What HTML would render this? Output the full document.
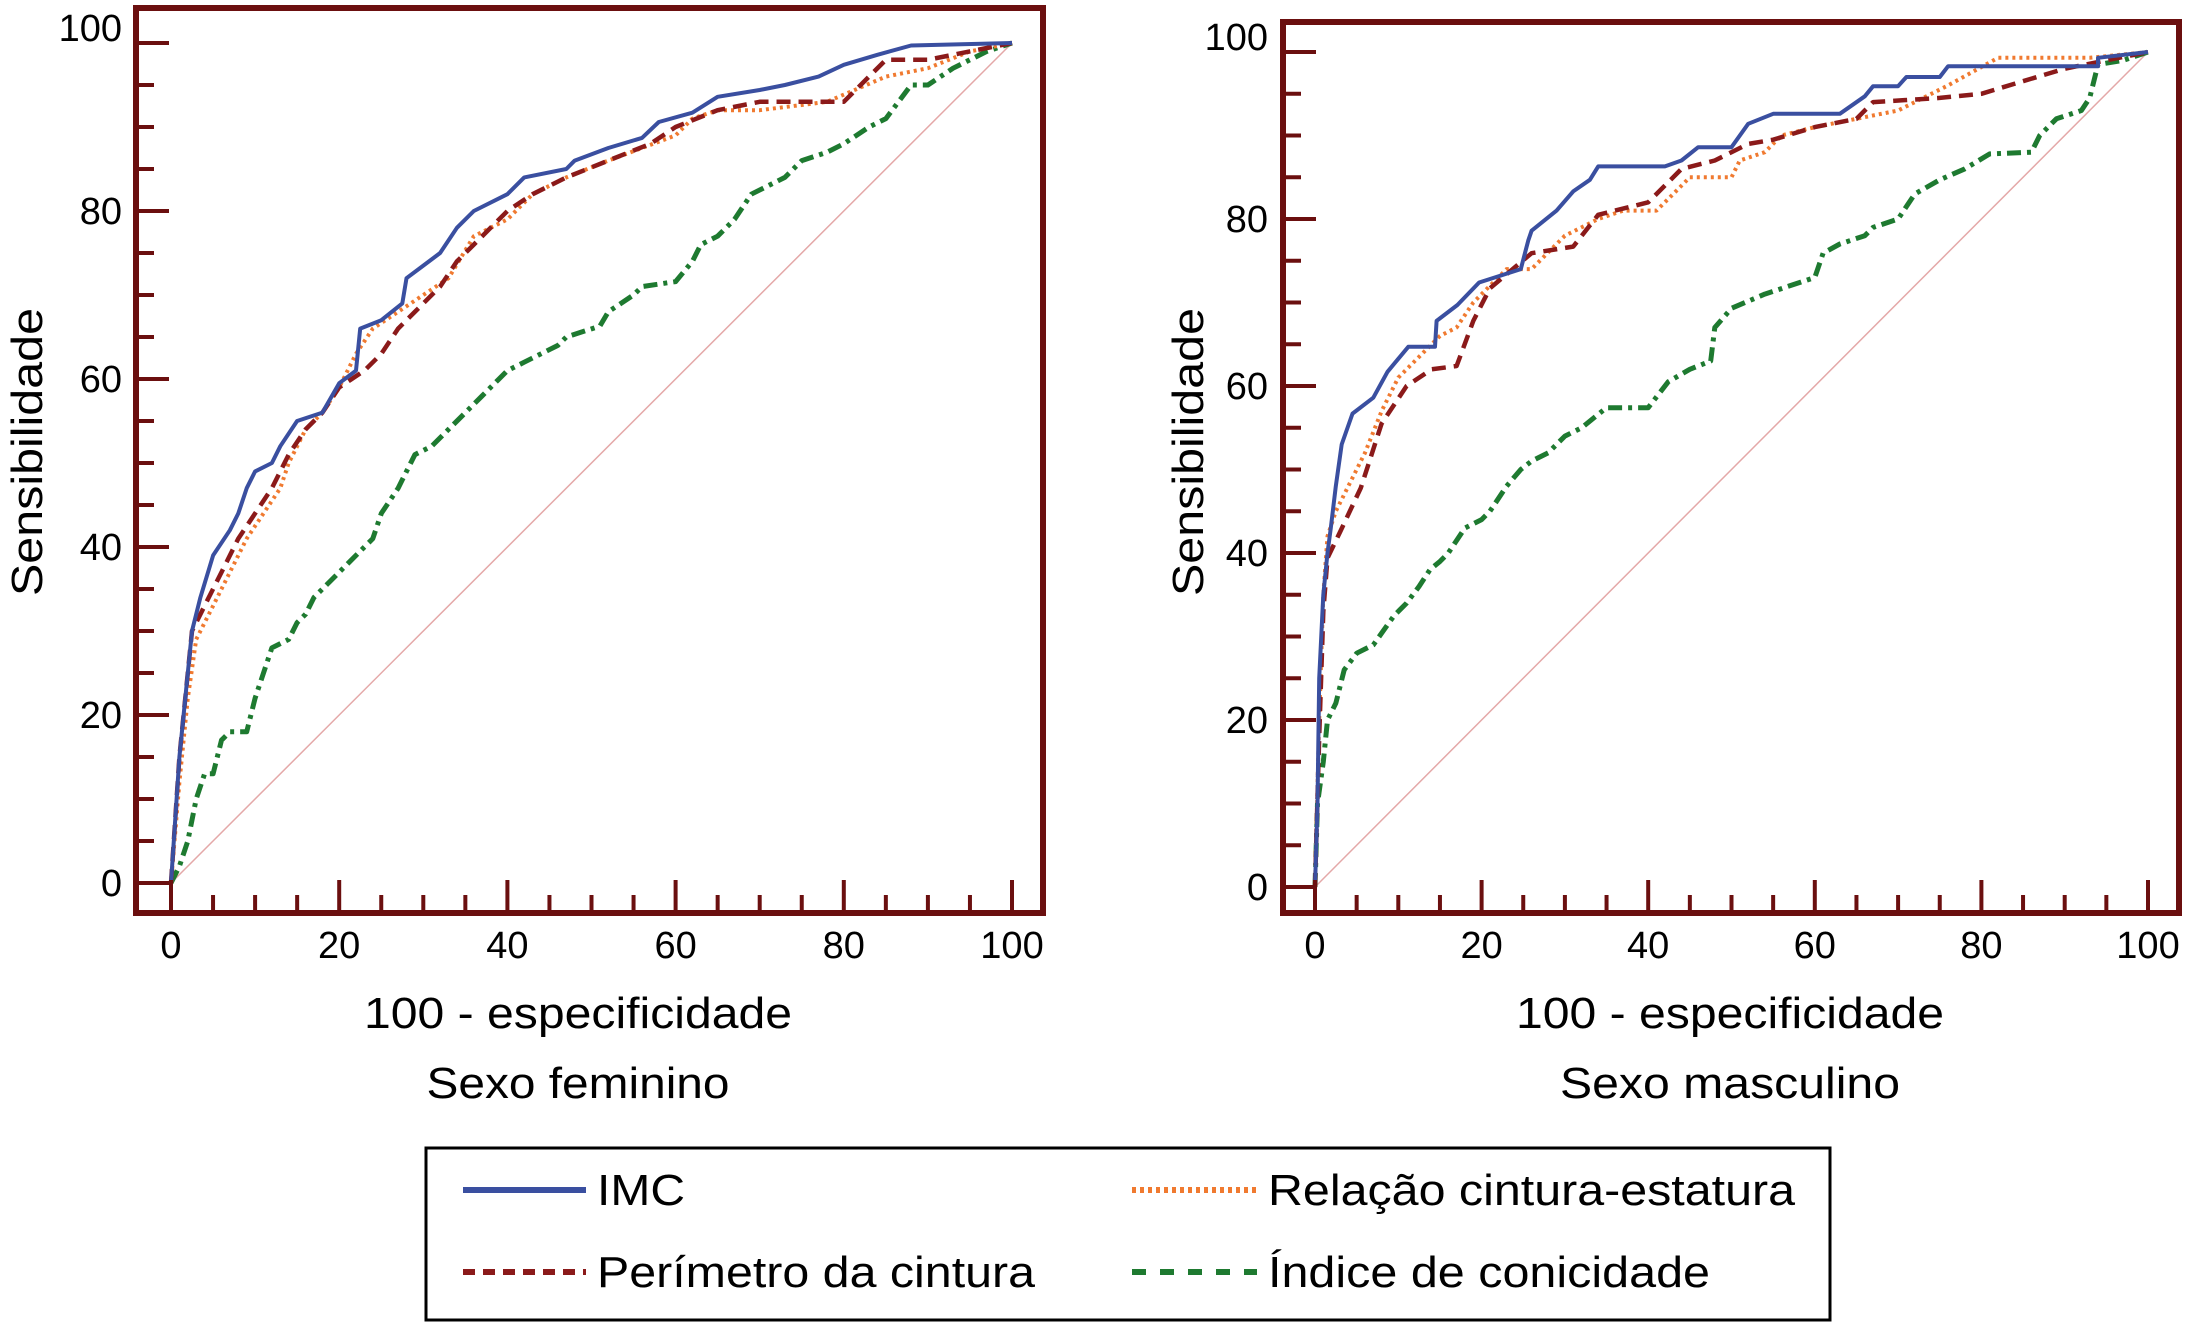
<!DOCTYPE html>
<html><head><meta charset="utf-8">
<style>
html,body{margin:0;padding:0;background:#fff;}
svg{display:block;font-family:"Liberation Sans",Arial,sans-serif;}
</style></head>
<body>
<svg id="chart" width="2202" height="1323" viewBox="0 0 2202 1323" xmlns="http://www.w3.org/2000/svg">
<rect x="0" y="0" width="2202" height="1323" fill="#fff"/>
<g id="panels"></g>
<g>
  <rect x="426" y="1148" width="1404" height="172" fill="none" stroke="#000" stroke-width="3"/>
  <line x1="463" y1="1190" x2="586" y2="1190" stroke="#3a4fa0" stroke-width="6"/>
  <text x="597" y="1205" font-size="44" textLength="88" lengthAdjust="spacingAndGlyphs">IMC</text>
  <line x1="1132" y1="1190" x2="1257" y2="1190" stroke="#f07a30" stroke-width="6" stroke-dasharray="4 4"/>
  <text x="1268" y="1205" font-size="44" textLength="527" lengthAdjust="spacingAndGlyphs">Relação cintura-estatura</text>
  <line x1="463" y1="1272" x2="586" y2="1272" stroke="#8b1a1a" stroke-width="6" stroke-dasharray="12 8"/>
  <text x="597" y="1287" font-size="44" textLength="438" lengthAdjust="spacingAndGlyphs">Perímetro da cintura</text>
  <line x1="1132" y1="1272" x2="1257" y2="1272" stroke="#1e7a30" stroke-width="6" stroke-dasharray="14 14"/>
  <text x="1268" y="1287" font-size="44" textLength="442" lengthAdjust="spacingAndGlyphs">Índice de conicidade</text>
</g>
</svg>
<script>
const xTicks = [0,20,40,60,80,100];
const yTicks = [0,20,40,60,80,100];
// Sexo feminino
const femIMC = [[0,0],[1,15],[2.5,30],[3.5,34],[5,39],[7,42],[8,44],[9,47],[10,49],[12,50],[13,52],[15,55],[18,56],[20,59.5],[22,61],[22.5,66],[25,67],[27.5,69],[28,72],[30,73.5],[32,75],[34,78],[36,80],[40,82],[42,84],[47,85],[48,86],[52,87.5],[56,88.7],[58,90.6],[62,91.7],[65,93.6],[70,94.4],[73,95],[77,96],[80,97.4],[84,98.6],[88,99.7],[100,100]];
const femPer = [[0,0],[1,15],[2,25],[2.5,30],[4,33],[6,37],[8,41],[10,44],[12,47],[14,51],[16,54],[18,56],[20,59],[23,61],[25,63],[27,66],[30,69],[32,71],[34,74],[36,76],[40,80],[43,82],[47,84],[52,86],[57,88],[60,90],[65,92],[70,93],[80,93],[85,98],[90,98],[100,100]];
const femRel = [[0,0],[1,12],[2,22],[3,29],[5,33],[7,37],[9,41],[11,44],[13,47],[14,50],[16,54],[18,56],[20,59],[22,63],[24,66],[27,68],[30,70],[33,72],[36,77],[40,79],[43,82],[47,84],[52,86],[56,87.5],[60,89],[62,91],[65,92],[70,92],[78,93],[85,96],[90,97],[95,99],[100,100]];
const femInd = [[0,0],[1,2],[2,5],[3,10],[4,13],[5,13],[6,17],[7,18],[9,18],[10,22],[11,25],[12,28],[14,29],[15,31],[16,32],[17,34],[18,35],[20,37],[21,38],[22,39],[24,41],[25,44],[27,47],[29,51],[31,52],[33,54],[35,56],[37,58],[39,60],[40,61],[42,62],[44,63],[46,64],[47,65],[51,66.3],[52,68],[55,70],[56,71],[60,71.6],[62,74],[63,76],[65,77],[67,79],[69,82],[73,84],[75,86],[78,87],[80,88],[83,90],[85,91],[88,95],[90,95],[93,97],[97,99],[100,100]];
// Sexo masculino
const masIMC = [[0,0],[0.3,10],[0.5,25],[1,35],[1.5,40],[1.9,43],[2.5,48],[3.2,53],[4.5,56.7],[7,58.6],[8.7,61.7],[11.2,64.7],[14.4,64.7],[14.6,67.8],[17.1,69.7],[19.7,72.4],[24.7,74],[25.6,77.4],[26,78.6],[29,81],[31,83.3],[33,84.7],[34,86.3],[42,86.3],[44,87],[46,88.6],[50,88.6],[52,91.4],[55,92.6],[63,92.6],[66,94.7],[67,95.9],[70,95.9],[71,97],[75,97],[76,98.3],[94,98.3],[94,99.3],[100,100]];
const masPer = [[0,0],[0.5,18],[1,33],[1.5,39.4],[3,42.5],[5.5,47.8],[8,55.5],[11,60],[14,62],[17,62.4],[19,67.8],[21,71.7],[26,75.9],[31,76.7],[34,80.5],[40,82],[44,86],[48,87],[52,89],[55,89.5],[60,91],[65,92],[67,94],[75,94.5],[80,95],[85,96.5],[90,98],[100,100]];
const masRel = [[0,0],[0.5,20],[1,35],[1.5,42],[2.5,45],[4,48],[6,52],[8,57],[10,61],[13,64],[15,66],[17,67],[19,70],[21,72],[23,74],[26,74],[28,76],[30,78],[34,80],[37,81],[41,81],[43,83],[45,85],[50,85],[51,87],[54,88],[56,90],[60,91],[65,92],[70,93],[76,96],[82,99.3],[93,99.3],[95,99.5],[100,100]];
const masInd = [[0,0],[0.3,10],[1,15],[1.5,20],[2.5,22],[3.5,26],[5,28],[7,29],[9.5,32.5],[11,34],[12.5,36],[13.8,38],[15,39],[16,40],[18,43],[20,44],[21,45],[23,48],[24.7,50],[26,51],[28,52],[30,54],[32,55],[35,57.4],[40,57.4],[42.4,60.5],[45,62],[47.5,63],[48,67],[50,69.3],[54,71],[57,72],[60,73],[61,75.9],[63,77],[66,78],[67,79],[70,80],[72,83],[75,84.7],[78,86],[81,87.8],[86,88],[87,90],[89,92],[92,93],[93,94.5],[94,98.5],[97,99],[100,100]];

const panelsCfg = [
  {key:'feminino', frame:[136,8,1043,913], x0:171, x100:1012, y0:883, y100:43, yLabX:122, title:'Sexo feminino', titleW:303, cx:578, ytx:42, series:[femInd,femRel,femPer,femIMC]},
  {key:'masculino', frame:[1283,22,2179,913], x0:1315, x100:2148, y0:887, y100:52, yLabX:1268, title:'Sexo masculino', titleW:340, cx:1730, ytx:1203, series:[masInd,masRel,masPer,masIMC]}
];
const styles = [
  {c:'#1e7a30', w:5, d:'14 6 4 6', n:'indice'},
  {c:'#f07a30', w:4, d:'3 4', n:'relacao'},
  {c:'#8b1a1a', w:4.5, d:'14 8', n:'perimetro'},
  {c:'#3a4fa0', w:4, d:'', n:'imc'}
];
const NS='http://www.w3.org/2000/svg';
const root=document.getElementById('panels');
function mk(tag,attrs,parent){const e=document.createElementNS(NS,tag);for(const k in attrs)e.setAttribute(k,attrs[k]);parent.appendChild(e);return e;}
panelsCfg.forEach(p=>{
  const g=mk('g',{},root);
  
  
  const sx=v=>p.x0+(p.x100-p.x0)*v/100;
  const sy=v=>p.y0+(p.y100-p.y0)*v/100;
  const [l,t,r,b]=p.frame;
  // diagonal
  const diag=mk('line',{x1:sx(0),y1:sy(0),x2:sx(100),y2:sy(100),stroke:'#e4a8a8','stroke-width':1.5},g);
  
  
  // series
  p.series.forEach((s,i)=>{
    const st=styles[i];
    const pts=s.map(d=>sx(d[0]).toFixed(1)+','+sy(d[1]).toFixed(1)).join(' ');
    const pl=mk('polyline',{points:pts,fill:'none',stroke:st.c,'stroke-width':st.w,'stroke-dasharray':st.d,'stroke-linejoin':'round'},g);
    
    
  });
  // ticks
  for(let v=0;v<=100;v+=5){
    const major=v%20===0;
    const xt=mk('line',{x1:sx(v),y1:b,x2:sx(v),y2:b-(major?33:18),stroke:'#6b0f0f','stroke-width':4},g);
    
    
    const yt=mk('line',{x1:l,y1:sy(v),x2:l+(major?33:18),y2:sy(v),stroke:'#6b0f0f','stroke-width':4},g);
    
    
  }
  const fr=mk('rect',{x:l,y:t,width:r-l,height:b-t,fill:'none',stroke:'#6b0f0f','stroke-width':6},g);
  
  
  xTicks.forEach(v=>{
    const tx=mk('text',{x:sx(v),y:958,'font-size':38,'text-anchor':'middle'},g);
    tx.textContent=v;
    
    
  });
  yTicks.forEach(v=>{
    const yy = v===100 ? sy(v)-2 : sy(v)+13;
    const tx=mk('text',{x:p.yLabX,y:yy,'font-size':38,'text-anchor':'end'},g);
    tx.textContent=v;
    
    
  });
  const xt=mk('text',{x:p.cx,y:1028,'font-size':44,'text-anchor':'middle',textLength:428,lengthAdjust:'spacingAndGlyphs'},g);
  xt.textContent='100 - especificidade';
  
  
  const st=mk('text',{x:p.cx,y:1098,'font-size':44,'text-anchor':'middle',textLength:p.titleW,lengthAdjust:'spacingAndGlyphs'},g);
  st.textContent=p.title;
  
  
  const yt=mk('text',{x:0,y:0,'font-size':44,'text-anchor':'middle',textLength:288,lengthAdjust:'spacingAndGlyphs',transform:'translate('+p.ytx+',452) rotate(-90)'},g);
  yt.textContent='Sensibilidade';
  
  
});
</script>
</body></html>
